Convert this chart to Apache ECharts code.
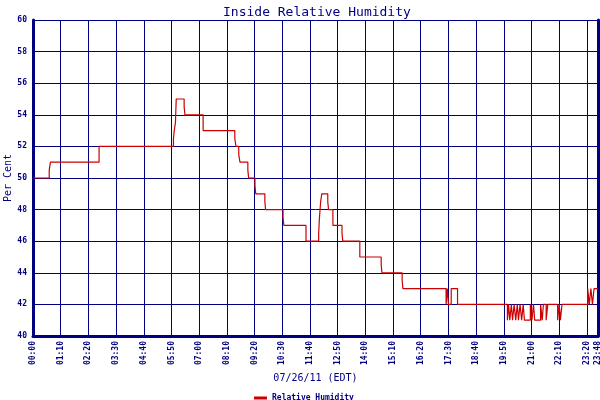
<!DOCTYPE html>
<html>
<head>
<meta charset="utf-8">
<script src="https://cdn.jsdelivr.net/npm/echarts@6/dist/echarts.min.js"></script>
<style>html,body{margin:0;padding:0;background:#fff}#c{width:600px;height:400px}</style>
</head>
<body>
<div id="c"></div>
<script>
// minutes after midnight at which the reading changes
var times = [0, 41, 44, 167, 355, 357, 360, 362, 382, 384, 430, 510, 513, 520, 523, 543, 545, 561, 563,
  586, 588, 632, 634, 690, 722, 724, 727, 730, 745, 747, 758, 781, 783, 826, 880, 882, 933, 935,
  1044, 1047, 1050, 1057, 1073,
  1199, 1202, 1205, 1209, 1212, 1216, 1220, 1224, 1227, 1231, 1235, 1239, 1242, 1257, 1261, 1265, 1268,
  1283, 1287, 1290, 1297, 1301, 1326, 1330, 1333, 1337, 1402, 1406, 1410, 1414, 1418, 1428];
var humidity = [50, 50.5, 51, 52, 52.5, 53, 53.5, 55, 54.5, 54, 53, 52.5, 52, 51.5, 51, 50.5, 50, 49.5, 49,
  48.5, 48, 47.5, 47, 46, 46.5, 47.5, 48.5, 49, 48.5, 48, 47, 46.5, 46, 45, 44.5, 44, 43.5, 43,
  42, 43, 42, 43, 42,
  41, 42, 41, 42, 41, 42, 41, 42, 41, 42, 41, 42, 41, 42, 41, 42, 41,
  42, 41, 42, 41, 42, 41, 42, 41, 42, 43, 42, 43, 42, 43, 43];
var xTickLabels = ['00:00','01:10','02:20','03:30','04:40','05:50','07:00','08:10','09:20','10:30','11:40',
  '12:50','14:00','15:10','16:20','17:30','18:40','19:50','21:00','22:10','23:20','23:48'];
var yMin = 40, yMax = 60, yStep = 2;
var xMax = 1428, xStep = 70;

var navy = '#000080';
var mono = 'DejaVu Sans Mono';
var chart = echarts.init(document.getElementById('c'));
var data = times.map(function (t, i) { return [t, humidity[i]]; });
chart.setOption({
  animation: false,
  backgroundColor: '#fff',
  title: {
    text: 'Inside Relative Humidity',
    left: 218, top: 1,
    textStyle: { color: navy, fontFamily: mono, fontSize: 13, fontWeight: 'normal' }
  },
  legend: {
    left: 249, top: 389,
    icon: 'rect', itemWidth: 13, itemHeight: 3,
    data: ['Relative Humidity'],
    textStyle: { color: navy, fontFamily: mono, fontSize: 8, fontWeight: 'bold' }
  },
  grid: { left: 33, right: 2, top: 20, bottom: 64, containLabel: false, outerBoundsMode: 'none' },
  xAxis: {
    type: 'value', min: 0, max: xMax, interval: xStep,
    name: '07/26/11 (EDT)', nameLocation: 'middle', nameGap: 37, nameMoveOverlap: false,
    nameTextStyle: { color: navy, fontFamily: mono, fontSize: 10 },
    axisLine: { show: true, lineStyle: { color: navy, width: 3 } },
    axisTick: { show: false },
    axisLabel: {
      rotate: 90, margin: 5, color: navy, fontFamily: mono, fontSize: 8, fontWeight: 'bold',
      showMinLabel: true, showMaxLabel: true,
      formatter: function (v) {
        return v >= xMax ? xTickLabels[xTickLabels.length - 1] : xTickLabels[Math.round(v / xStep)];
      }
    },
    splitLine: { show: true, lineStyle: { color: navy, width: 1 } }
  },
  yAxis: [{
    type: 'value', min: yMin, max: yMax, interval: yStep,
    name: 'Per Cent', nameLocation: 'middle', nameGap: 20, nameRotate: 90, nameMoveOverlap: false,
    nameTextStyle: { color: navy, fontFamily: mono, fontSize: 10 },
    axisLine: { show: true, lineStyle: { color: navy, width: 3 } },
    axisTick: { show: false },
    axisLabel: { margin: 6, color: navy, fontFamily: mono, fontSize: 8, fontWeight: 'bold' },
    splitLine: { show: true, lineStyle: { color: navy, width: 1 } }
  }, {
    type: 'value', min: yMin, max: yMax, interval: yStep, position: 'right',
    axisLine: { show: true, lineStyle: { color: navy, width: 3 } },
    axisTick: { show: false }, axisLabel: { show: false }, splitLine: { show: false }
  }],
  series: [{
    name: 'Relative Humidity', type: 'line', step: 'end',
    showSymbol: false, symbol: 'none',
    color: '#cc0000',
    lineStyle: { color: '#cc0000', width: 1.2 },
    data: data
  }]
});
</script>
</body>
</html>
